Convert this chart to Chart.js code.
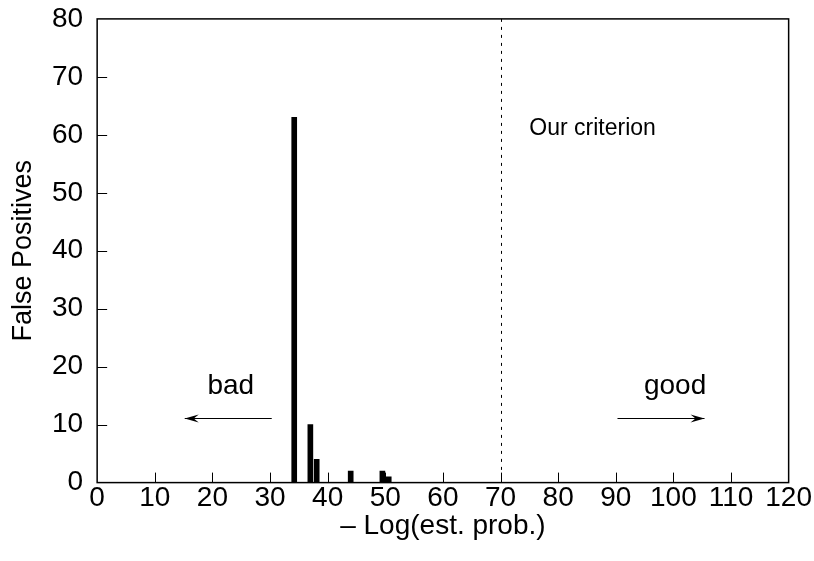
<!DOCTYPE html>
<html>
<head>
<meta charset="utf-8">
<script src="https://cdn.jsdelivr.net/npm/chart.js@4.4.1/dist/chart.umd.min.js"></script>
<style>
  html, body { margin: 0; padding: 0; background: #fff; }
  #wrap { width: 814px; height: 561px; position: relative; }
</style>
</head>
<body>
<div id="wrap"><canvas id="myChart"></canvas></div>
<script>
// scores (x) and number of false positives (y)
const scores = [34.2, 37.0, 38.1, 44.0, 49.5, 50.6];
const falsePositives = [63, 10, 4, 2, 2, 1];
const criterion = 70;
const xTicks = [0, 120, 10];
const yTicks = [0, 80, 10];

const FONT = "'Liberation Sans', Arial, Helvetica, sans-serif";

// inward ticks, frame, labels and arrows
const decorations = {
    id: 'decorations',
    afterDraw(chart) {
        const ctx = chart.ctx;
        const x = chart.scales.x;
        const y = chart.scales.y;
        const a = chart.chartArea;
        ctx.save();
        ctx.strokeStyle = '#000';
        ctx.lineWidth = 1.5;
        ctx.strokeRect(a.left, a.top, a.right - a.left, a.bottom - a.top);
        ctx.lineWidth = 1;
        ctx.beginPath();
        for (let v = xTicks[0] + xTicks[2]; v < xTicks[1]; v += xTicks[2]) {
            const px = Math.round(x.getPixelForValue(v)) + 0.5;
            ctx.moveTo(px, a.bottom);
            ctx.lineTo(px, a.bottom - 10);
        }
        for (let v = yTicks[0] + yTicks[2]; v < yTicks[1]; v += yTicks[2]) {
            const py = Math.round(y.getPixelForValue(v)) + 0.5;
            ctx.moveTo(a.left, py);
            ctx.lineTo(a.left + 10, py);
        }
        ctx.stroke();

        // dotted criterion line
        ctx.setLineDash([3, 5]);
        ctx.beginPath();
        const cx = Math.round(x.getPixelForValue(criterion)) + 0.5;
        ctx.moveTo(cx, a.top);
        ctx.lineTo(cx, a.bottom);
        ctx.stroke();
        ctx.setLineDash([]);

        ctx.fillStyle = '#000';
        ctx.font = '23px ' + FONT;
        ctx.textAlign = 'left';
        ctx.textBaseline = 'middle';
        ctx.fillText('Our criterion', x.getPixelForValue(75), y.getPixelForValue(61));

        ctx.font = '28px ' + FONT;
        ctx.textAlign = 'center';
        ctx.fillText('bad', x.getPixelForValue(23.2), y.getPixelForValue(16.6));
        ctx.fillText('good', x.getPixelForValue(100.3), y.getPixelForValue(16.6));

        const arrow = (x1, x2, yv) => {
            const p1 = x.getPixelForValue(x1);
            const p2 = x.getPixelForValue(x2);
            const py = Math.round(y.getPixelForValue(yv)) + 0.5;
            const d = Math.sign(p2 - p1);
            ctx.beginPath();
            ctx.moveTo(p1, py);
            ctx.lineTo(p2, py);
            ctx.stroke();
            ctx.beginPath();
            ctx.moveTo(p2, py);
            ctx.lineTo(p2 - d * 14, py - 4);
            ctx.lineTo(p2 - d * 9, py);
            ctx.lineTo(p2 - d * 14, py + 4);
            ctx.closePath();
            ctx.fill();
        };
        arrow(30.3, 15.2, 11.1);
        arrow(90.3, 105.4, 11.1);
        ctx.restore();
    }
};

const ctx = document.getElementById('myChart');

new Chart(ctx, {
    type: 'bar',
    data: {
        datasets: [{
            data: scores.map((s, i) => ({ x: s, y: falsePositives[i] })),
            backgroundColor: '#000',
            borderWidth: 0,
            barThickness: 5
        }]
    },
    options: {
        responsive: true,
        maintainAspectRatio: false,
        animation: false,
        layout: { padding: { top: 18, right: 25, bottom: 24, left: 8 } },
        plugins: {
            legend: false,
            tooltip: { enabled: false }
        },
        scales: {
            x: {
                type: 'linear',
                min: xTicks[0],
                max: xTicks[1],
                offset: false,
                grid: { display: false, drawTicks: false },
                border: { display: false },
                ticks: {
                    stepSize: xTicks[2],
                    padding: 2,
                    color: '#000',
                    font: { family: FONT, size: 28, lineHeight: 1 },
                    maxRotation: 0,
                    autoSkip: false
                },
                title: {
                    display: true,
                    text: '\u2013 Log(est. prob.)',
                    color: '#000',
                    font: { family: FONT, size: 28, lineHeight: 0.8 },
                    padding: { top: 0, bottom: 0 }
                }
            },
            y: {
                min: yTicks[0],
                max: yTicks[1],
                grid: { display: false, drawTicks: false },
                border: { display: false },
                ticks: {
                    stepSize: yTicks[2],
                    padding: 14,
                    color: '#000',
                    font: { family: FONT, size: 28, lineHeight: 0.35 }
                },
                title: {
                    display: true,
                    text: 'False Positives',
                    color: '#000',
                    font: { family: FONT, size: 27, lineHeight: 1 },
                    padding: { top: 2, bottom: 1 }
                }
            }
        }
    },
    plugins: [decorations]
});
</script>
</body>
</html>
